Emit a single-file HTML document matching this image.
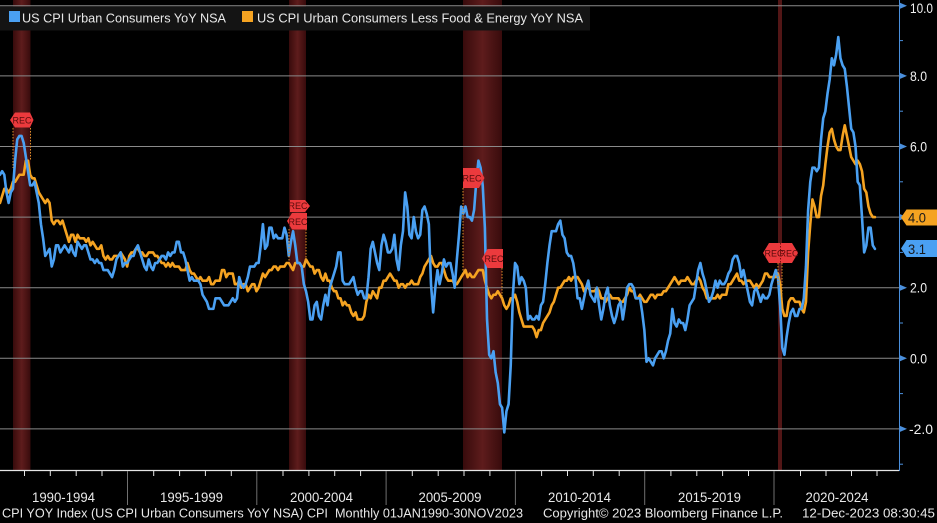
<!DOCTYPE html>
<html><head><meta charset="utf-8"><style>
html,body{margin:0;padding:0;background:#000;}
svg{display:block;}
text{font-family:"Liberation Sans",sans-serif;}
</style></head><body>
<svg width="937" height="523" viewBox="0 0 937 523" xmlns="http://www.w3.org/2000/svg">
<defs>
<linearGradient id="rg" x1="0" x2="1" y1="0" y2="0">
<stop offset="0" stop-color="#380b0c"/><stop offset="0.5" stop-color="#5e1c1c"/><stop offset="1" stop-color="#380b0c"/>
</linearGradient>
</defs>
<rect x="0" y="0" width="937" height="523" fill="#000"/>
<!-- recessions -->
<rect x="13" y="0" width="17.5" height="471" fill="url(#rg)"/>
<rect x="289" y="0" width="17" height="471" fill="url(#rg)"/>
<rect x="463" y="0" width="39" height="471" fill="url(#rg)"/>
<rect x="778" y="0" width="4" height="471" fill="#521616"/>
<!-- gridlines -->
<g stroke="#8a8a8a" stroke-width="1">
<line x1="0" x2="899" y1="5.8" y2="5.8"/>
<line x1="0" x2="899" y1="75.9" y2="75.9"/>
<line x1="0" x2="899" y1="146.5" y2="146.5"/>
<line x1="0" x2="899" y1="217.1" y2="217.1"/>
<line x1="0" x2="899" y1="287.7" y2="287.7"/>
<line x1="0" x2="899" y1="358.3" y2="358.3"/>
<line x1="0" x2="899" y1="428.9" y2="428.9"/>
</g>
<!-- series -->
<g transform="matrix(2.155 0 0 -35.3 0 358.3)" fill="none" stroke-linejoin="round" stroke-linecap="round">
<polyline vector-effect="non-scaling-stroke" stroke="#f5a321" stroke-width="2.6" points="0,4.4 1,4.6 2,4.8 3,4.8 4,4.7 5,4.8 6,5.0 7,5.0 8,5.1 9,5.2 10,5.2 11,5.2 12,5.6 13,5.6 14,5.2 15,5.1 16,5.1 17,4.9 18,4.7 19,4.6 20,4.5 21,4.4 22,4.5 23,4.4 24,3.9 25,3.8 26,3.9 27,3.9 28,3.8 29,3.9 30,3.7 31,3.5 32,3.3 33,3.5 34,3.5 35,3.3 36,3.5 37,3.4 38,3.4 39,3.4 40,3.3 41,3.4 42,3.2 43,3.3 44,3.2 45,3.1 46,3.1 47,3.2 48,2.9 49,2.8 50,2.9 51,2.8 52,2.8 53,2.9 54,2.9 55,2.9 56,3.0 57,2.9 58,2.8 59,2.6 60,2.9 61,3.0 62,3.0 63,3.1 64,3.1 65,3.0 66,3.0 67,2.9 68,2.9 69,3.0 70,3.0 71,3.0 72,2.9 73,2.9 74,2.8 75,2.7 76,2.7 77,2.6 78,2.7 79,2.6 80,2.7 81,2.6 82,2.6 83,2.6 84,2.5 85,2.5 86,2.5 87,2.7 88,2.5 89,2.4 90,2.4 91,2.3 92,2.2 93,2.3 94,2.2 95,2.2 96,2.2 97,2.3 98,2.1 99,2.1 100,2.2 101,2.2 102,2.2 103,2.5 104,2.5 105,2.3 106,2.4 107,2.4 108,2.4 109,2.1 110,2.1 111,2.2 112,2.0 113,2.1 114,2.1 115,1.9 116,2.0 117,2.1 118,2.1 119,1.9 120,2.0 121,2.2 122,2.4 123,2.3 124,2.4 125,2.5 126,2.5 127,2.6 128,2.6 129,2.5 130,2.6 131,2.6 132,2.6 133,2.7 134,2.7 135,2.6 136,2.5 137,2.7 138,2.7 139,2.7 140,2.6 141,2.6 142,2.8 143,2.7 144,2.6 145,2.6 146,2.4 147,2.5 148,2.5 149,2.3 150,2.2 151,2.4 152,2.2 153,2.2 154,2.0 155,1.9 156,1.9 157,1.7 158,1.7 159,1.5 160,1.6 161,1.5 162,1.5 163,1.3 164,1.2 165,1.3 166,1.1 167,1.1 168,1.1 169,1.2 170,1.6 171,1.8 172,1.7 173,1.9 174,1.8 175,1.7 176,2.0 177,2.0 178,2.2 179,2.2 180,2.3 181,2.4 182,2.3 183,2.2 184,2.2 185,2.0 186,2.1 187,2.1 188,2.0 189,2.1 190,2.1 191,2.2 192,2.1 193,2.1 194,2.1 195,2.3 196,2.4 197,2.6 198,2.7 199,2.8 200,2.9 201,2.7 202,2.6 203,2.6 204,2.7 205,2.7 206,2.5 207,2.3 208,2.2 209,2.2 210,2.2 211,2.1 212,2.1 213,2.2 214,2.3 215,2.4 216,2.5 217,2.3 218,2.4 219,2.3 220,2.3 221,2.4 222,2.5 223,2.5 224,2.5 225,2.2 226,2.0 227,1.8 228,1.7 229,1.8 230,1.8 231,1.9 232,1.8 233,1.7 234,1.5 235,1.4 236,1.5 237,1.7 238,1.7 239,1.8 240,1.6 241,1.3 242,1.1 243,0.9 244,0.9 245,0.9 246,0.9 247,0.9 248,0.8 249,0.6 250,0.8 251,0.8 252,1.0 253,1.1 254,1.2 255,1.3 256,1.5 257,1.6 258,1.8 259,2.0 260,2.0 261,2.1 262,2.2 263,2.2 264,2.3 265,2.2 266,2.3 267,2.3 268,2.3 269,2.2 270,2.1 271,1.9 272,2.0 273,2.0 274,1.9 275,1.9 276,1.9 277,2.0 278,1.9 279,1.7 280,1.7 281,1.6 282,1.7 283,1.8 284,1.7 285,1.7 286,1.7 287,1.7 288,1.6 289,1.6 290,1.7 291,1.8 292,2.0 293,1.9 294,1.9 295,1.7 296,1.7 297,1.8 298,1.7 299,1.6 300,1.6 301,1.7 302,1.8 303,1.8 304,1.7 305,1.8 306,1.8 307,1.8 308,1.9 309,1.9 310,2.0 311,2.1 312,2.2 313,2.3 314,2.2 315,2.1 316,2.2 317,2.2 318,2.2 319,2.3 320,2.2 321,2.1 322,2.1 323,2.2 324,2.3 325,2.2 326,2.0 327,1.9 328,1.7 329,1.7 330,1.7 331,1.7 332,1.7 333,1.8 334,1.7 335,1.8 336,1.8 337,1.8 338,2.1 339,2.1 340,2.2 341,2.3 342,2.4 343,2.2 344,2.2 345,2.1 346,2.2 347,2.2 348,2.2 349,2.1 350,2.0 351,2.1 352,2.0 353,2.1 354,2.2 355,2.4 356,2.4 357,2.3 358,2.3 359,2.3 360,2.3 361,2.4 362,2.1 363,1.4 364,1.2 365,1.2 366,1.6 367,1.7 368,1.7 369,1.6 370,1.6 371,1.6 372,1.4 373,1.3 374,1.6 375,3.0 376,3.8 377,4.5 378,4.3 379,4.0 380,4.0 381,4.6 382,4.9 383,5.5 384,6.0 385,6.4 386,6.5 387,6.2 388,6.0 389,5.9 390,5.9 391,6.3 392,6.6 393,6.3 394,6.0 395,5.7 396,5.6 397,5.5 398,5.6 399,5.5 400,5.3 401,4.8 402,4.7 403,4.3 404,4.1 405,4.0 406,4.0"/>
<polyline vector-effect="non-scaling-stroke" stroke="#4aa0f2" stroke-width="2.6" points="0,5.2 1,5.3 2,5.2 3,4.7 4,4.4 5,4.7 6,4.8 7,5.6 8,6.2 9,6.3 10,6.3 11,6.1 12,5.7 13,5.3 14,4.9 15,4.9 16,5.0 17,4.7 18,4.4 19,3.8 20,3.4 21,2.9 22,3.0 23,3.1 24,2.6 25,2.8 26,3.2 27,3.2 28,3.0 29,3.1 30,3.2 31,3.1 32,3.0 33,3.2 34,3.0 35,2.9 36,3.3 37,3.2 38,3.1 39,3.2 40,3.2 41,3.0 42,2.8 43,2.8 44,2.7 45,2.8 46,2.7 47,2.7 48,2.5 49,2.5 50,2.5 51,2.4 52,2.3 53,2.5 54,2.8 55,2.9 56,3.0 57,2.6 58,2.7 59,2.7 60,2.8 61,2.9 62,2.9 63,3.1 64,3.2 65,3.0 66,2.8 67,2.6 68,2.5 69,2.8 70,2.6 71,2.5 72,2.7 73,2.7 74,2.8 75,2.9 76,2.9 77,2.8 78,3.0 79,2.9 80,3.0 81,3.0 82,3.3 83,3.3 84,3.0 85,3.0 86,2.8 87,2.5 88,2.2 89,2.3 90,2.2 91,2.2 92,2.2 93,2.1 94,1.8 95,1.7 96,1.6 97,1.4 98,1.4 99,1.4 100,1.7 101,1.7 102,1.7 103,1.6 104,1.5 105,1.5 106,1.5 107,1.6 108,1.7 109,1.6 110,1.7 111,2.3 112,2.1 113,2.0 114,2.1 115,2.3 116,2.6 117,2.6 118,2.6 119,2.7 120,2.7 121,3.2 122,3.8 123,3.1 124,3.2 125,3.7 126,3.7 127,3.4 128,3.5 129,3.4 130,3.4 131,3.4 132,3.7 133,3.5 134,2.9 135,3.3 136,3.6 137,3.2 138,2.7 139,2.7 140,2.6 141,2.1 142,1.9 143,1.6 144,1.1 145,1.1 146,1.5 147,1.6 148,1.2 149,1.1 150,1.5 151,1.8 152,1.5 153,2.0 154,2.2 155,2.4 156,2.6 157,3.0 158,3.0 159,2.2 160,2.1 161,2.1 162,2.1 163,2.2 164,2.3 165,2.0 166,1.8 167,1.9 168,1.9 169,1.7 170,1.7 171,2.3 172,3.1 173,3.3 174,3.0 175,2.7 176,2.5 177,3.2 178,3.5 179,3.3 180,3.0 181,3.0 182,3.1 183,3.5 184,2.8 185,2.5 186,3.2 187,3.6 188,4.7 189,4.3 190,3.5 191,3.4 192,4.0 193,3.6 194,3.4 195,3.5 196,4.2 197,4.3 198,4.1 199,3.8 200,2.1 201,1.3 202,2.0 203,2.5 204,2.1 205,2.4 206,2.8 207,2.6 208,2.7 209,2.7 210,2.4 211,2.0 212,2.8 213,3.5 214,4.3 215,4.1 216,4.3 217,4.0 218,4.0 219,3.9 220,4.2 221,5.0 222,5.6 223,5.4 224,4.9 225,3.7 226,1.1 227,0.1 228,0.0 229,0.2 230,-0.4 231,-0.7 232,-1.3 233,-1.4 234,-2.1 235,-1.5 236,-1.3 237,-0.2 238,1.8 239,2.7 240,2.6 241,2.1 242,2.3 243,2.2 244,2.0 245,1.1 246,1.2 247,1.1 248,1.1 249,1.2 250,1.1 251,1.5 252,1.6 253,2.1 254,2.7 255,3.2 256,3.6 257,3.6 258,3.6 259,3.8 260,3.9 261,3.5 262,3.4 263,3.0 264,2.9 265,2.9 266,2.7 267,2.3 268,1.7 269,1.7 270,1.4 271,1.7 272,2.0 273,2.2 274,1.8 275,1.7 276,1.6 277,2.0 278,1.5 279,1.1 280,1.4 281,1.8 282,2.0 283,1.5 284,1.2 285,1.0 286,1.2 287,1.5 288,1.6 289,1.1 290,1.5 291,2.0 292,2.1 293,2.1 294,2.0 295,1.7 296,1.7 297,1.7 298,1.3 299,0.8 300,-0.1 301,0.0 302,-0.1 303,-0.2 304,0.0 305,0.1 306,0.2 307,0.2 308,0.0 309,0.2 310,0.5 311,0.7 312,1.4 313,1.0 314,0.9 315,1.1 316,1.0 317,1.0 318,0.8 319,1.1 320,1.5 321,1.6 322,1.7 323,2.1 324,2.5 325,2.7 326,2.4 327,2.2 328,1.9 329,1.6 330,1.7 331,1.9 332,2.2 333,2.0 334,2.2 335,2.1 336,2.1 337,2.2 338,2.4 339,2.5 340,2.8 341,2.9 342,2.9 343,2.7 344,2.3 345,2.5 346,2.2 347,1.9 348,1.6 349,1.5 350,1.9 351,2.0 352,1.8 353,1.6 354,1.8 355,1.7 356,1.7 357,1.8 358,2.1 359,2.3 360,2.5 361,2.3 362,1.5 363,0.3 364,0.1 365,0.6 366,1.0 367,1.3 368,1.4 369,1.2 370,1.2 371,1.4 372,1.4 373,1.7 374,2.6 375,4.2 376,5.0 377,5.4 378,5.4 379,5.3 380,5.4 381,6.2 382,6.8 383,7.0 384,7.5 385,7.9 386,8.5 387,8.3 388,8.6 389,9.1 390,8.5 391,8.3 392,8.2 393,7.7 394,7.1 395,6.5 396,6.4 397,6.0 398,5.0 399,4.9 400,4.0 401,3.0 402,3.2 403,3.7 404,3.7 405,3.2 406,3.1"/>
</g>
<!-- recession markers dotted lines -->
<g stroke="#e0902a" stroke-width="1" stroke-dasharray="1.5,1.5">
<line x1="13" y1="128" x2="13" y2="168"/>
<line x1="30.5" y1="128" x2="30.5" y2="160"/>
<line x1="289" y1="229" x2="289" y2="262"/>
<line x1="306" y1="229" x2="306" y2="265"/>
<line x1="463" y1="188" x2="463" y2="273"/>
<line x1="502" y1="268" x2="502" y2="300"/>
<line x1="778" y1="263" x2="778" y2="285"/>
<line x1="782" y1="263" x2="782" y2="300"/>
</g>
<!-- markers -->
<g fill="#ec3a3d">
<polygon points="10,120 15,112.5 30,112.5 33.5,120 30,127.5 15,127.5"/>
<polygon points="290,200 305,200 310,206 305,212 290,212"/>
<polygon points="287,221 292,213 307,213 307,229.5 292,229.5"/>
<polygon points="463,168 479,168 484.5,178 479,188 463,188"/>
<polygon points="482,258.5 487.5,249 503,249 503,268 487.5,268"/>
<polygon points="763,253 769,243 792,243 798,253 792,263 769,263"/>
</g>
<g fill="#5a0c0c" font-size="9" text-anchor="middle">
<text x="22" y="123.5">REC</text>
<text x="298" y="209">REC</text>
<text x="298" y="225">REC</text>
<text x="472" y="181.5">REC</text>
<text x="494" y="262">REC</text>
<text x="774" y="256.5">REC</text>
<text x="789" y="256.5">REC</text>
</g>
<line x1="780.5" y1="243" x2="780.5" y2="263" stroke="#7a1010" stroke-width="1" stroke-dasharray="1.5,1.5"/>
<!-- legend -->
<rect x="0" y="6.5" width="590" height="24" fill="#141414"/>
<rect x="9" y="11" width="11" height="11" fill="#4aa0f2"/>
<text x="22" y="22.5" font-size="13" fill="#e8e8e8" textLength="204" lengthAdjust="spacingAndGlyphs">US CPI Urban Consumers YoY NSA</text>
<rect x="242" y="11" width="11" height="11" fill="#f5a321"/>
<text x="257" y="22.5" font-size="13" fill="#e8e8e8" textLength="326" lengthAdjust="spacingAndGlyphs">US CPI Urban Consumers Less Food &amp; Energy YoY NSA</text>
<!-- right axis -->
<line x1="899.5" y1="0" x2="899.5" y2="471" stroke="#4a8fdc" stroke-width="1"/>
<g fill="#4a8fdc">
<polygon points="900,2.8 907,5.8 900,8.8"/>
<polygon points="900,72.9 907,75.9 900,78.9"/>
<polygon points="900,143.5 907,146.5 900,149.5"/>
<polygon points="900,214.1 907,217.1 900,220.1"/>
<polygon points="900,284.7 907,287.7 900,290.7"/>
<polygon points="900,355.3 907,358.3 900,361.3"/>
<polygon points="900,425.9 907,428.9 900,431.9"/>
</g>
<g stroke="#4a8fdc" stroke-width="1">
<line x1="899" x2="903" y1="40.6" y2="40.6"/>
<line x1="899" x2="903" y1="111.2" y2="111.2"/>
<line x1="899" x2="903" y1="181.8" y2="181.8"/>
<line x1="899" x2="903" y1="252.4" y2="252.4"/>
<line x1="899" x2="903" y1="323" y2="323"/>
<line x1="899" x2="903" y1="393.6" y2="393.6"/>
<line x1="899" x2="903" y1="464.2" y2="464.2"/>
</g>
<g fill="#f0f0f0" font-size="13.5">
<text x="910" y="13" textLength="23" lengthAdjust="spacingAndGlyphs">10.0</text>
<text x="910" y="81" textLength="17" lengthAdjust="spacingAndGlyphs">8.0</text>
<text x="910" y="151.5" textLength="17" lengthAdjust="spacingAndGlyphs">6.0</text>
<text x="910" y="292.7" textLength="17" lengthAdjust="spacingAndGlyphs">2.0</text>
<text x="910" y="363.3" textLength="17" lengthAdjust="spacingAndGlyphs">0.0</text>
<text x="909" y="433.9" textLength="24" lengthAdjust="spacingAndGlyphs">-2.0</text>
</g>
<!-- value tags -->
<polygon points="901,217.5 906.5,209.5 937,209.5 937,225.5 906.5,225.5" fill="#f5a321"/>
<text x="908" y="222.5" font-size="13.5" fill="#1a1a1a" textLength="18" lengthAdjust="spacingAndGlyphs">4.0</text>
<polygon points="901,248.5 906.5,240 937,240 937,257 906.5,257" fill="#4aa0f2"/>
<text x="908" y="254" font-size="13.5" fill="#1a1a1a" textLength="18" lengthAdjust="spacingAndGlyphs">3.1</text>
<!-- x axis -->
<line x1="0" y1="470.5" x2="899" y2="470.5" stroke="#e6e6e6" stroke-width="1.2"/>
<g stroke="#e6e6e6" stroke-width="1">
<line x1="24.5" x2="24.5" y1="471" y2="476"/><line x1="50.3" x2="50.3" y1="471" y2="476"/><line x1="76.2" x2="76.2" y1="471" y2="476"/><line x1="102" x2="102" y1="471" y2="476"/>
<line x1="153.7" x2="153.7" y1="471" y2="476"/><line x1="179.6" x2="179.6" y1="471" y2="476"/><line x1="205.4" x2="205.4" y1="471" y2="476"/><line x1="231.3" x2="231.3" y1="471" y2="476"/>
<line x1="283" x2="283" y1="471" y2="476"/><line x1="308.9" x2="308.9" y1="471" y2="476"/><line x1="334.7" x2="334.7" y1="471" y2="476"/><line x1="360.6" x2="360.6" y1="471" y2="476"/>
<line x1="412.3" x2="412.3" y1="471" y2="476"/><line x1="438.2" x2="438.2" y1="471" y2="476"/><line x1="464" x2="464" y1="471" y2="476"/><line x1="489.9" x2="489.9" y1="471" y2="476"/>
<line x1="541.6" x2="541.6" y1="471" y2="476"/><line x1="567.5" x2="567.5" y1="471" y2="476"/><line x1="593.3" x2="593.3" y1="471" y2="476"/><line x1="619.2" x2="619.2" y1="471" y2="476"/>
<line x1="670.9" x2="670.9" y1="471" y2="476"/><line x1="696.8" x2="696.8" y1="471" y2="476"/><line x1="722.6" x2="722.6" y1="471" y2="476"/><line x1="748.5" x2="748.5" y1="471" y2="476"/>
<line x1="800.5" x2="800.5" y1="471" y2="476"/><line x1="826" x2="826" y1="471" y2="476"/><line x1="851.5" x2="851.5" y1="471" y2="476"/><line x1="877" x2="877" y1="471" y2="476"/>
</g>
<g stroke="#707070" stroke-width="1">
<line x1="127.5" x2="127.5" y1="471" y2="505"/>
<line x1="256.8" x2="256.8" y1="471" y2="505"/>
<line x1="386.1" x2="386.1" y1="471" y2="505"/>
<line x1="515.4" x2="515.4" y1="471" y2="505"/>
<line x1="644.7" x2="644.7" y1="471" y2="505"/>
<line x1="774" x2="774" y1="471" y2="505"/>
</g>
<g fill="#e8e8e8" font-size="14" text-anchor="middle">
<text x="63.5" y="502" textLength="63" lengthAdjust="spacingAndGlyphs">1990-1994</text>
<text x="191.5" y="502" textLength="63" lengthAdjust="spacingAndGlyphs">1995-1999</text>
<text x="321.5" y="502" textLength="63" lengthAdjust="spacingAndGlyphs">2000-2004</text>
<text x="450" y="502" textLength="63" lengthAdjust="spacingAndGlyphs">2005-2009</text>
<text x="579.5" y="502" textLength="63" lengthAdjust="spacingAndGlyphs">2010-2014</text>
<text x="709.5" y="502" textLength="63" lengthAdjust="spacingAndGlyphs">2015-2019</text>
<text x="837" y="502" textLength="63" lengthAdjust="spacingAndGlyphs">2020-2024</text>
</g>
<g fill="#e8e8e8" font-size="12.5">
<text x="2" y="517.5" textLength="521" lengthAdjust="spacingAndGlyphs" xml:space="preserve">CPI YOY Index (US CPI Urban Consumers YoY NSA) CPI  Monthly 01JAN1990-30NOV2023</text>
<text x="543" y="517.5" textLength="240" lengthAdjust="spacingAndGlyphs">Copyright© 2023 Bloomberg Finance L.P.</text>
<text x="802" y="517.5" textLength="133" lengthAdjust="spacingAndGlyphs">12-Dec-2023 08:30:45</text>
</g>
</svg>
</body></html>
